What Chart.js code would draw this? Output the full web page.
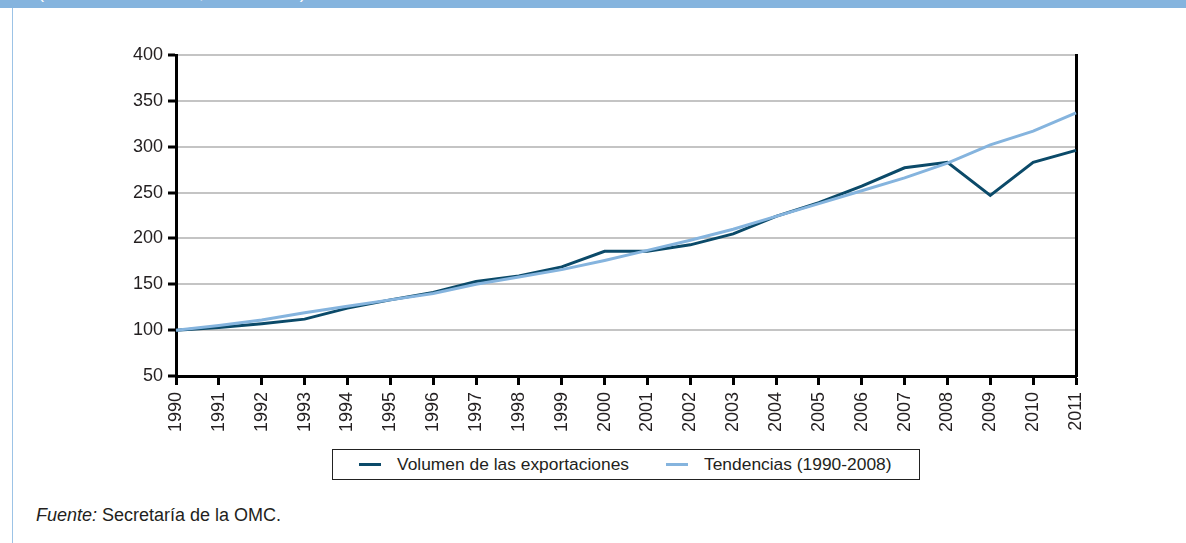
<!DOCTYPE html>
<html>
<head>
<meta charset="utf-8">
<script src="https://cdn.jsdelivr.net/npm/chart.js@4.4.1/dist/chart.umd.min.js"></script>
<style>
  html, body { margin: 0; padding: 0; background: #fff; }
  body { width: 1186px; height: 543px; position: relative; overflow: hidden; font-family: "Liberation Sans", Arial, sans-serif; color: #231f20; }
  .banner { position: absolute; left: 0; top: 0; width: 1186px; height: 8px; background: #85b4de; overflow: hidden; }
  .banner span { position: absolute; left: 38px; top: -18px; color: #fff; font-size: 18px; white-space: nowrap; }
  .frame { position: absolute; left: 12px; top: 8px; width: 1px; height: 535px; background: #9cc3e6; }
  .wrap { position: absolute; left: 0; top: 0; width: 1186px; height: 445px; }
  .legend { position: absolute; left: 332px; top: 449px; width: 586px; height: 29px; border: 1px solid #222; font-size: 17.4px; }
  .legend .item { position: absolute; top: 0; height: 29px; line-height: 29px; white-space: nowrap; }
  .legend .sw { display: inline-block; width: 22px; height: 3px; vertical-align: middle; margin-right: 16px; position: relative; top: -1px; }
  .source { position: absolute; left: 36px; top: 505px; font-size: 18px; }
</style>
</head>
<body>
<div class="banner"><span>(Índices de volumen, 1990 = 100)</span></div>
<div class="frame"></div>
<div class="wrap"><canvas id="chart" width="1186" height="445"></canvas></div>
<div class="legend">
  <div class="item" style="left:26px"><span class="sw" style="background:#0b4a69"></span>Volumen de las exportaciones</div>
  <div class="item" style="left:333px"><span class="sw" style="background:#85b4de"></span>Tendencias (1990-2008)</div>
</div>
<div class="source"><i>Fuente:</i> Secretaría de la OMC.</div>

<script>
// ===== DATA =====
const years = ["1990","1991","1992","1993","1994","1995","1996","1997","1998","1999","2000",
               "2001","2002","2003","2004","2005","2006","2007","2008","2009","2010","2011"];

const volumen = [100, 103, 107, 112, 124, 133, 141, 153, 159, 169, 186,
                 186, 193, 205, 224, 239, 257, 277, 283, 247, 283, 296];

const tendencia = [100, 105, 111, 119, 126, 133, 140, 150, 158, 166, 176,
                   187, 198, 210, 224, 238, 252, 266, 282, 302, 317, 337];

const yTicks = [50, 100, 150, 200, 250, 300, 350, 400];

// ===== CHART =====
const font = { family: "Liberation Sans, Arial, sans-serif", size: 18 };

new Chart(document.getElementById("chart"), {
  type: "line",
  data: {
    labels: years,
    datasets: [
      {
        label: "Tendencias (1990-2008)",
        data: tendencia,
        borderColor: "#85b4de",
        borderWidth: 3,
        pointRadius: 0,
        tension: 0
      },
      {
        label: "Volumen de las exportaciones",
        data: volumen,
        borderColor: "#0b4a69",
        borderWidth: 3,
        pointRadius: 0,
        tension: 0
      }
    ]
  },
  options: {
    responsive: false,
    animation: false,
    layout: { padding: { top: 55, right: 110, left: 0, bottom: 0 } },
    plugins: { legend: { display: false }, tooltip: { enabled: false } },
    scales: {
      x: {
        type: "category",
        offset: false,
        afterFit: (s) => { s.height = 69; },
        ticks: { color: "#231f20", font: font, minRotation: 90, maxRotation: 90, padding: 7, autoSkip: false },
        grid: { drawOnChartArea: false, tickColor: "#000", tickWidth: 3, tickLength: 9 },
        border: { color: "#000", width: 3 }
      },
      y: {
        min: yTicks[0],
        max: yTicks[yTicks.length - 1],
        afterFit: (s) => { s.width = 176; },
        afterBuildTicks: (s) => { s.ticks = yTicks.map(v => ({ value: v })); },
        ticks: { color: "#231f20", font: font, padding: 5 },
        grid: { color: "#c4c4c4", lineWidth: 2, tickColor: "#000", tickWidth: 3, tickLength: 8 },
        border: { color: "#000", width: 3 }
      },
      y1: {
        position: "right",
        min: yTicks[0],
        max: yTicks[yTicks.length - 1],
        afterFit: (s) => { s.width = 0; },
        ticks: { display: false },
        grid: { drawOnChartArea: false, drawTicks: false },
        border: { color: "#000", width: 3 }
      }
    }
  }
});
</script>
</body>
</html>
